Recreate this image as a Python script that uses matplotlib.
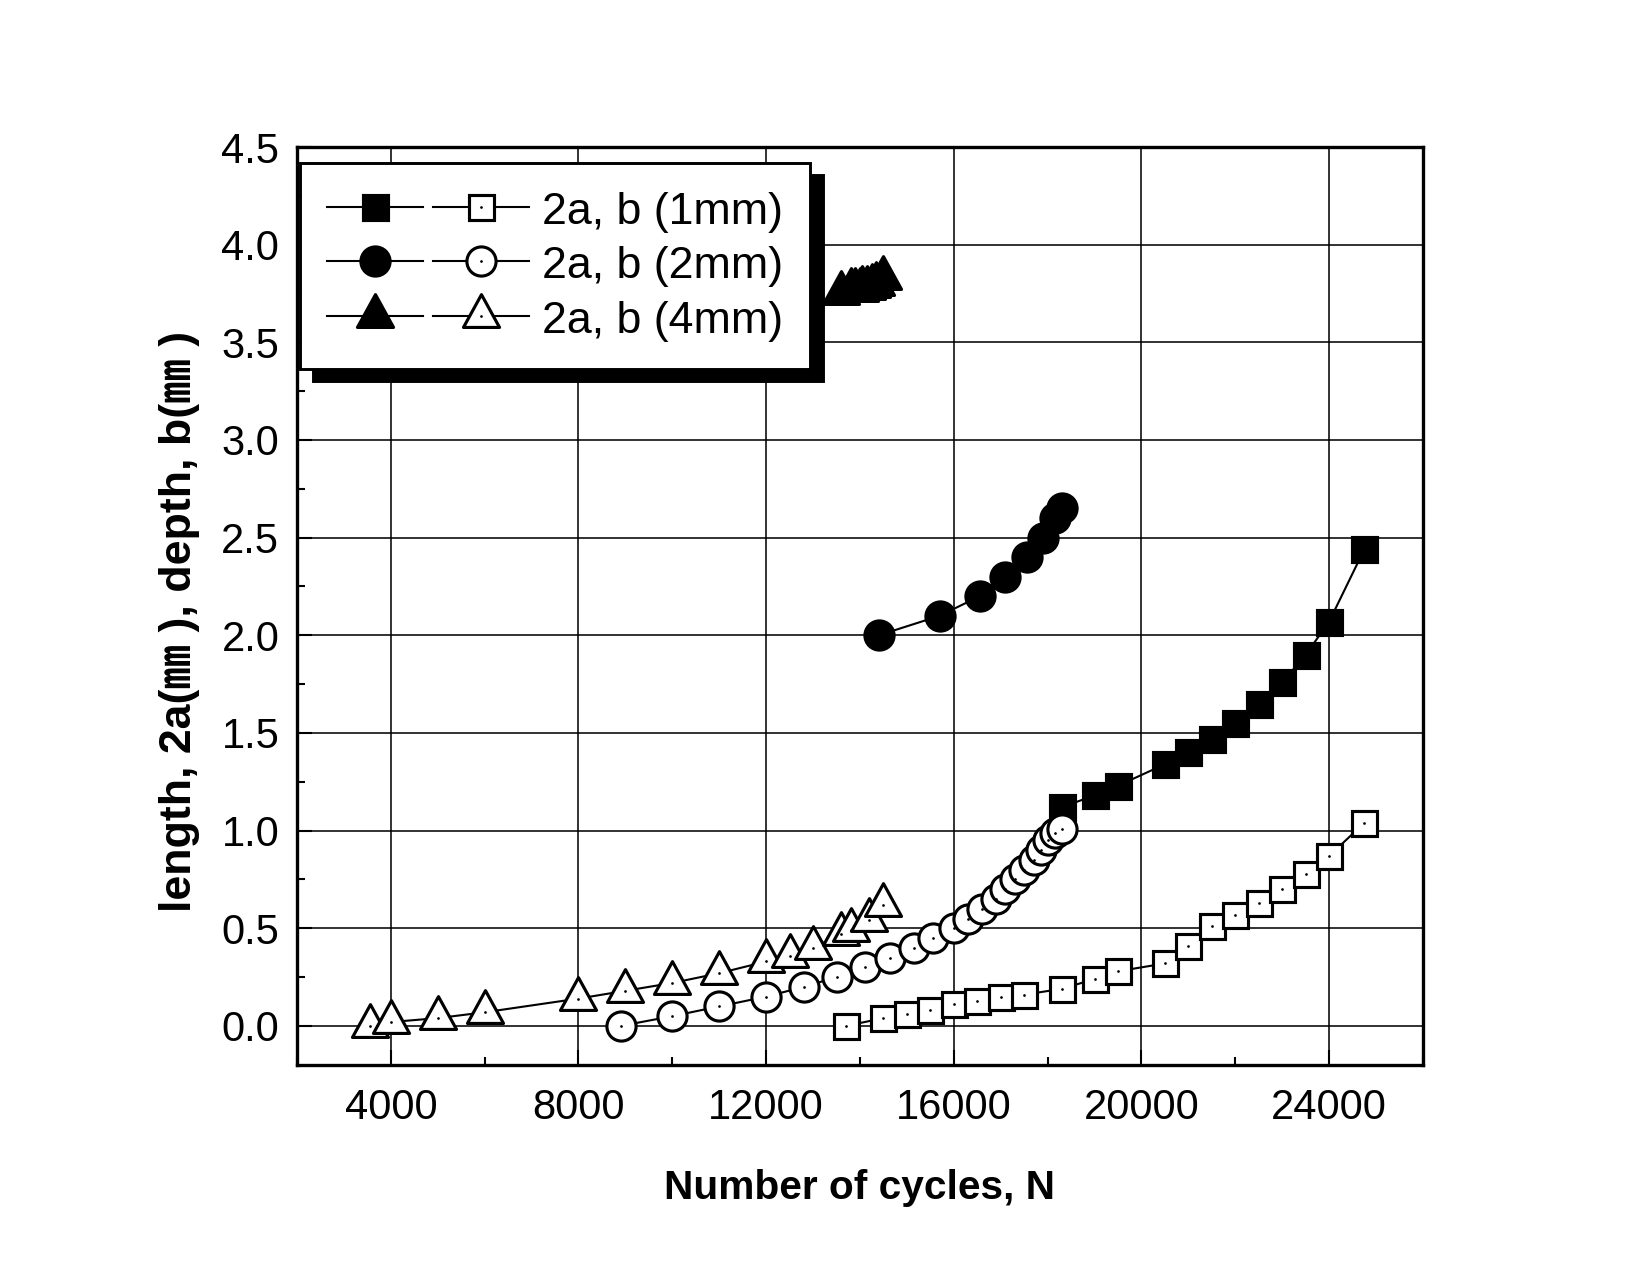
import matplotlib
matplotlib.use("Agg")
import matplotlib.pyplot as plt
from matplotlib.path import Path
from matplotlib.lines import Line2D
from matplotlib.ticker import MultipleLocator, FormatStrFormatter
from matplotlib.legend_handler import HandlerTuple
from matplotlib import font_manager as fm

# ---------------- data ----------------
sq_fill_x = [18300, 19000, 19500, 20500, 21000, 21500, 22000, 22500, 23000, 23500, 24000, 24750]
sq_fill_y = [1.12, 1.18, 1.23, 1.34, 1.40, 1.47, 1.55, 1.65, 1.76, 1.90, 2.07, 2.44]

sq_open_x = [13700, 14500, 15000, 15500, 16000, 16500, 17000, 17500, 18300, 19000,
             19500, 20500, 21000, 21500, 22000, 22500, 23000, 23500, 24000, 24750]
sq_open_y = [0.00, 0.04, 0.06, 0.08, 0.11, 0.13, 0.15, 0.16, 0.19, 0.24,
             0.28, 0.32, 0.41, 0.51, 0.57, 0.63, 0.70, 0.78, 0.87, 1.04]

circ_fill_x = [14400, 15700, 16550, 17100, 17550, 17900, 18150, 18300]
circ_fill_y = [2.00, 2.10, 2.20, 2.30, 2.40, 2.50, 2.60, 2.65]

circ_open_x = [8900, 10000, 11000, 12000, 12800, 13500, 14100, 14650, 15150, 15550, 16000,
               16300, 16600, 16900, 17100, 17300, 17500, 17700, 17850, 18000, 18150, 18300]
circ_open_y = [0.00, 0.05, 0.10, 0.15, 0.20, 0.25, 0.30, 0.35, 0.40, 0.45, 0.50,
               0.55, 0.60, 0.65, 0.70, 0.75, 0.80, 0.85, 0.90, 0.95, 0.99, 1.01]

tri_fill_x = [13600, 13800, 13900, 14000, 14050, 14150, 14250, 14350, 14500]
tri_fill_y = [3.75, 3.77, 3.77, 3.77, 3.78, 3.78, 3.79, 3.80, 3.83]

tri_open_x = [3550, 4000, 5000, 6000, 8000, 9000, 10000, 11000, 12000, 12500, 13000,
              13600, 13800, 14200, 14500]
tri_open_y = [0.00, 0.02, 0.04, 0.07, 0.14, 0.18, 0.22, 0.27, 0.33, 0.36, 0.40,
              0.47, 0.49, 0.54, 0.62]

legend_labels = ["2a, b (1mm)", "2a, b (2mm)", "2a, b (4mm)"]
x_label = "Number of cycles, N"
y_label = "length, 2a(\u339c ), depth, b(\u339c )"
x_ticks = [4000, 8000, 12000, 16000, 20000, 24000]

# ---------------- fonts ----------------
def has_font(name):
    try:
        fm.findfont(fm.FontProperties(family=name), fallback_to_default=False)
        return True
    except Exception:
        return False

base = "Liberation Sans" if has_font("Liberation Sans") else "DejaVu Sans"
narrow = "Liberation Sans Narrow" if has_font("Liberation Sans Narrow") else base
plt.rcParams["font.family"] = [base, "DejaVu Sans"]
xlab_size = 23 if narrow != base else 19.5
ylab_size = 24 if narrow != base else 21.5

# centroid-centred triangle marker
tri = Path([(0, 2 / 3), (-0.55, -1 / 3), (0.55, -1 / 3), (0, 2 / 3)],
           [Path.MOVETO, Path.LINETO, Path.LINETO, Path.CLOSEPOLY])

MS_SQ, MS_CI, MS_TR = 12, 14, 21

fig = plt.figure(figsize=(11, 8.5), dpi=150)
ax = fig.add_axes([0.18, 0.1647, 0.6824, 0.72])

lw = 1.0
mew = 1.5
common = dict(color="black", lw=lw, mec="black", mew=mew)

def series(x, y, marker, ms, filled, z):
    ax.plot(x, y, marker=marker, ms=ms, mfc="black" if filled else "white",
            zorder=z, **common)
    if not filled:
        ax.plot(x, y, ls="none", marker="o", ms=1.3, mfc="black", mew=0,
                color="black", zorder=z + 0.1)

series(sq_fill_x, sq_fill_y, "s", MS_SQ, True, 3)
series(sq_open_x, sq_open_y, "s", MS_SQ, False, 4)
series(circ_fill_x, circ_fill_y, "o", MS_CI, True, 5)
series(circ_open_x, circ_open_y, "o", MS_CI, False, 6)
series(tri_fill_x, tri_fill_y, tri, MS_TR, True, 7)
series(tri_open_x, tri_open_y, tri, MS_TR, False, 8)

ax.set_xlim(2000, 26000)
ax.set_ylim(-0.2, 4.5)
ax.set_xticks(x_ticks)
ax.xaxis.set_minor_locator(MultipleLocator(2000))
ax.yaxis.set_major_locator(MultipleLocator(0.5))
ax.yaxis.set_minor_locator(MultipleLocator(0.25))
ax.yaxis.set_major_formatter(FormatStrFormatter("%.1f"))

ax.grid(True, which="major", color="black", lw=0.75)
ax.set_axisbelow(True)
for s in ax.spines.values():
    s.set_linewidth(1.6)
    s.set_zorder(10)

ax.tick_params(which="both", direction="in", top=False, right=False, width=1.0)
ax.tick_params(which="major", length=7)
ax.tick_params(which="minor", length=4)
ax.tick_params(axis="y", which="major", pad=8.5, labelsize=20)
ax.tick_params(axis="x", which="major", pad=11, labelsize=20)

ax.set_xlabel(x_label, fontsize=xlab_size, fontweight="bold",
              family=[narrow, "DejaVu Sans"], labelpad=19.5)
ax.set_ylabel(y_label, fontsize=ylab_size, fontweight="bold", y=0.483,
              family=[narrow, "Noto Sans CJK KR", "DejaVu Sans"], labelpad=10)

# ---------------- legend ----------------
def mk(marker, ms, filled):
    return Line2D([], [], marker=marker, ms=ms, mfc="black" if filled else "white", **common)

def dot():
    return Line2D([], [], ls="none", marker="o", ms=1.3, mfc="black", mew=0, color="black")

h1 = (mk("s", MS_SQ, True), (mk("s", MS_SQ, False), dot()))
h2 = (mk("o", MS_CI, True), (mk("o", MS_CI, False), dot()))
h3 = (mk(tri, MS_TR, True), (mk(tri, MS_TR, False), dot()))
hmap = {h: HandlerTuple(ndivide=None, pad=0.22) for h in (h1, h2, h3)}

leg = ax.legend([h1, h2, h3], legend_labels, handler_map=hmap,
                loc="upper left", bbox_to_anchor=(0.003, 0.983), borderaxespad=0,
                fontsize=21.5, numpoints=1, handlelength=4.5, handleheight=0.9,
                handletextpad=0.3, labelspacing=0.26, borderpad=0.6,
                fancybox=False, framealpha=1, edgecolor="black",
                shadow={"ox": 6, "oy": -6, "color": "black", "alpha": 1})
leg.get_frame().set_linewidth(1.4)
leg.set_zorder(20)

fig.savefig("out.png", dpi=150, facecolor="white")
